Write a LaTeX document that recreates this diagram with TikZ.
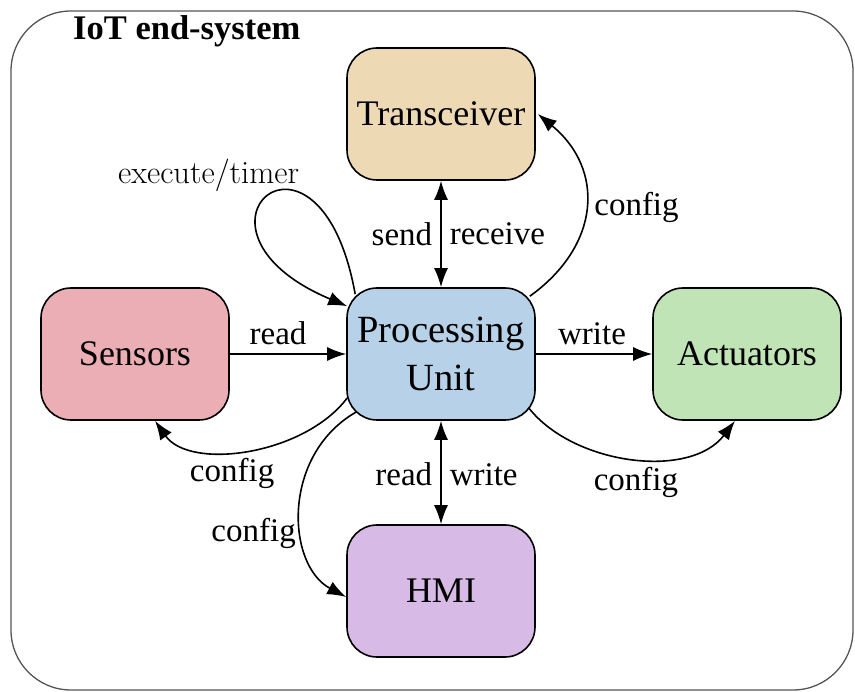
\documentclass[tikz,border=0pt]{standalone}
\usepackage{fontspec}
\setmainfont{Liberation Serif}
\newfontfamily\lmfont{Latin Modern Roman}
\usetikzlibrary{arrows.meta}
\definecolor{ctrans}{RGB}{237,217,180}
\definecolor{cpu}{RGB}{183,209,232}
\definecolor{csens}{RGB}{235,174,181}
\definecolor{cact}{RGB}{192,228,181}
\definecolor{chmi}{RGB}{216,186,230}
\definecolor{cframe}{RGB}{85,85,85}
\newcommand{\cfg}{conf\kern0pt ig}
\begin{document}
\begin{tikzpicture}[x=1pt,y=-1pt,
  box/.style={draw=black, line width=1.6pt, rounded corners=30pt, minimum width=188pt, minimum height=132pt, inner sep=0pt, align=center, font=\fontsize{36}{46}\selectfont},
  lab/.style={font=\fontsize{33}{40}\selectfont, inner sep=2pt},
  conn/.style={line width=1.6pt, -{Latex[length=19pt,width=14pt]}},
  both/.style={line width=1.6pt, {Latex[length=19pt,width=14pt]}-{Latex[length=19pt,width=14pt]}}
]
\useasboundingbox (0,0) rectangle (855,692);
\node[draw=cframe, line width=1.3pt, rounded corners=60pt, minimum width=842pt, minimum height=679pt, inner sep=0pt] (sys) at (432,350.5) {};
\node[font=\bfseries\fontsize{34.5}{40}\selectfont, anchor=base west, inner sep=0pt] (title) at (73,40) {IoT end-system};

\node[box, fill=ctrans] (tr) at (441,114) {Transceiver};
\node[box, fill=cpu, font=\fontsize{38.5}{48}\selectfont] (pu) at (441,354) {Processing\\Unit};
\node[box, fill=csens] (se) at (135,354) {Sensors};
\node[box, fill=cact] (ac) at (747,354) {Actuators};
\node[box, fill=chmi] (hmi) at (441,591) {HMI};

% straight edges
\draw[conn] (se.east) -- node[lab, above=6pt, xshift=-10pt] (l1) {read} (pu.west);
\draw[conn] (pu.east) -- node[lab, above=6pt, xshift=-2pt] (l2) {write} (ac.west);
\draw[both] (tr.south) -- node[lab, left=6pt] (l3) {send} node[lab, right=6pt] (l4) {receive} (pu.north);
\draw[both] (pu.south) -- node[lab, left=6pt, yshift=-2pt] (l5) {read} node[lab, right=6pt, yshift=-2pt] (l6) {write} (hmi.north);

% curved config edges
\draw[conn] ([shift={(-6,9)}]pu.north east) .. controls +(70,-50) and +(68,56) .. ([shift={(2,0)}]tr.east)
  node[lab, pos=0.5, right=6pt] (l7) {\cfg};
\draw[conn] ([shift={(1,44)}]pu.west) .. controls +(-43,57) and +(35,50) .. ([shift={(20,0)}]se.south)
  node[lab, pos=0.5, below=6pt, xshift=-16pt] (l8) {\cfg};
\draw[conn] ([shift={(10,58)}]pu.west) .. controls +(-75,43) and +(-60,-32) .. ([shift={(0,6)}]hmi.west)
  node[lab, pos=0.5, anchor=north east, inner sep=3pt, yshift=-6pt, xshift=-1pt] (l9) {\cfg};
\draw[conn] ([shift={(-7,54)}]pu.east) .. controls +(45,57) and +(-45,59) .. ([shift={(-12,0)}]ac.south)
  node[lab, pos=0.5, below=7pt, xshift=4pt] (l10) {\cfg};

% self loop
\draw[conn] ([shift={(9,7)}]pu.north west) .. controls +(-36,-200) and +(-183,-77) .. ([shift={(1,19)}]pu.north west)
  node[pos=0.375, anchor=south, xshift=-80pt, yshift=-3pt, font=\lmfont\fontsize{32.5}{38}\selectfont, inner sep=0pt] (l11) {execute/timer};
\end{tikzpicture}
\end{document}
